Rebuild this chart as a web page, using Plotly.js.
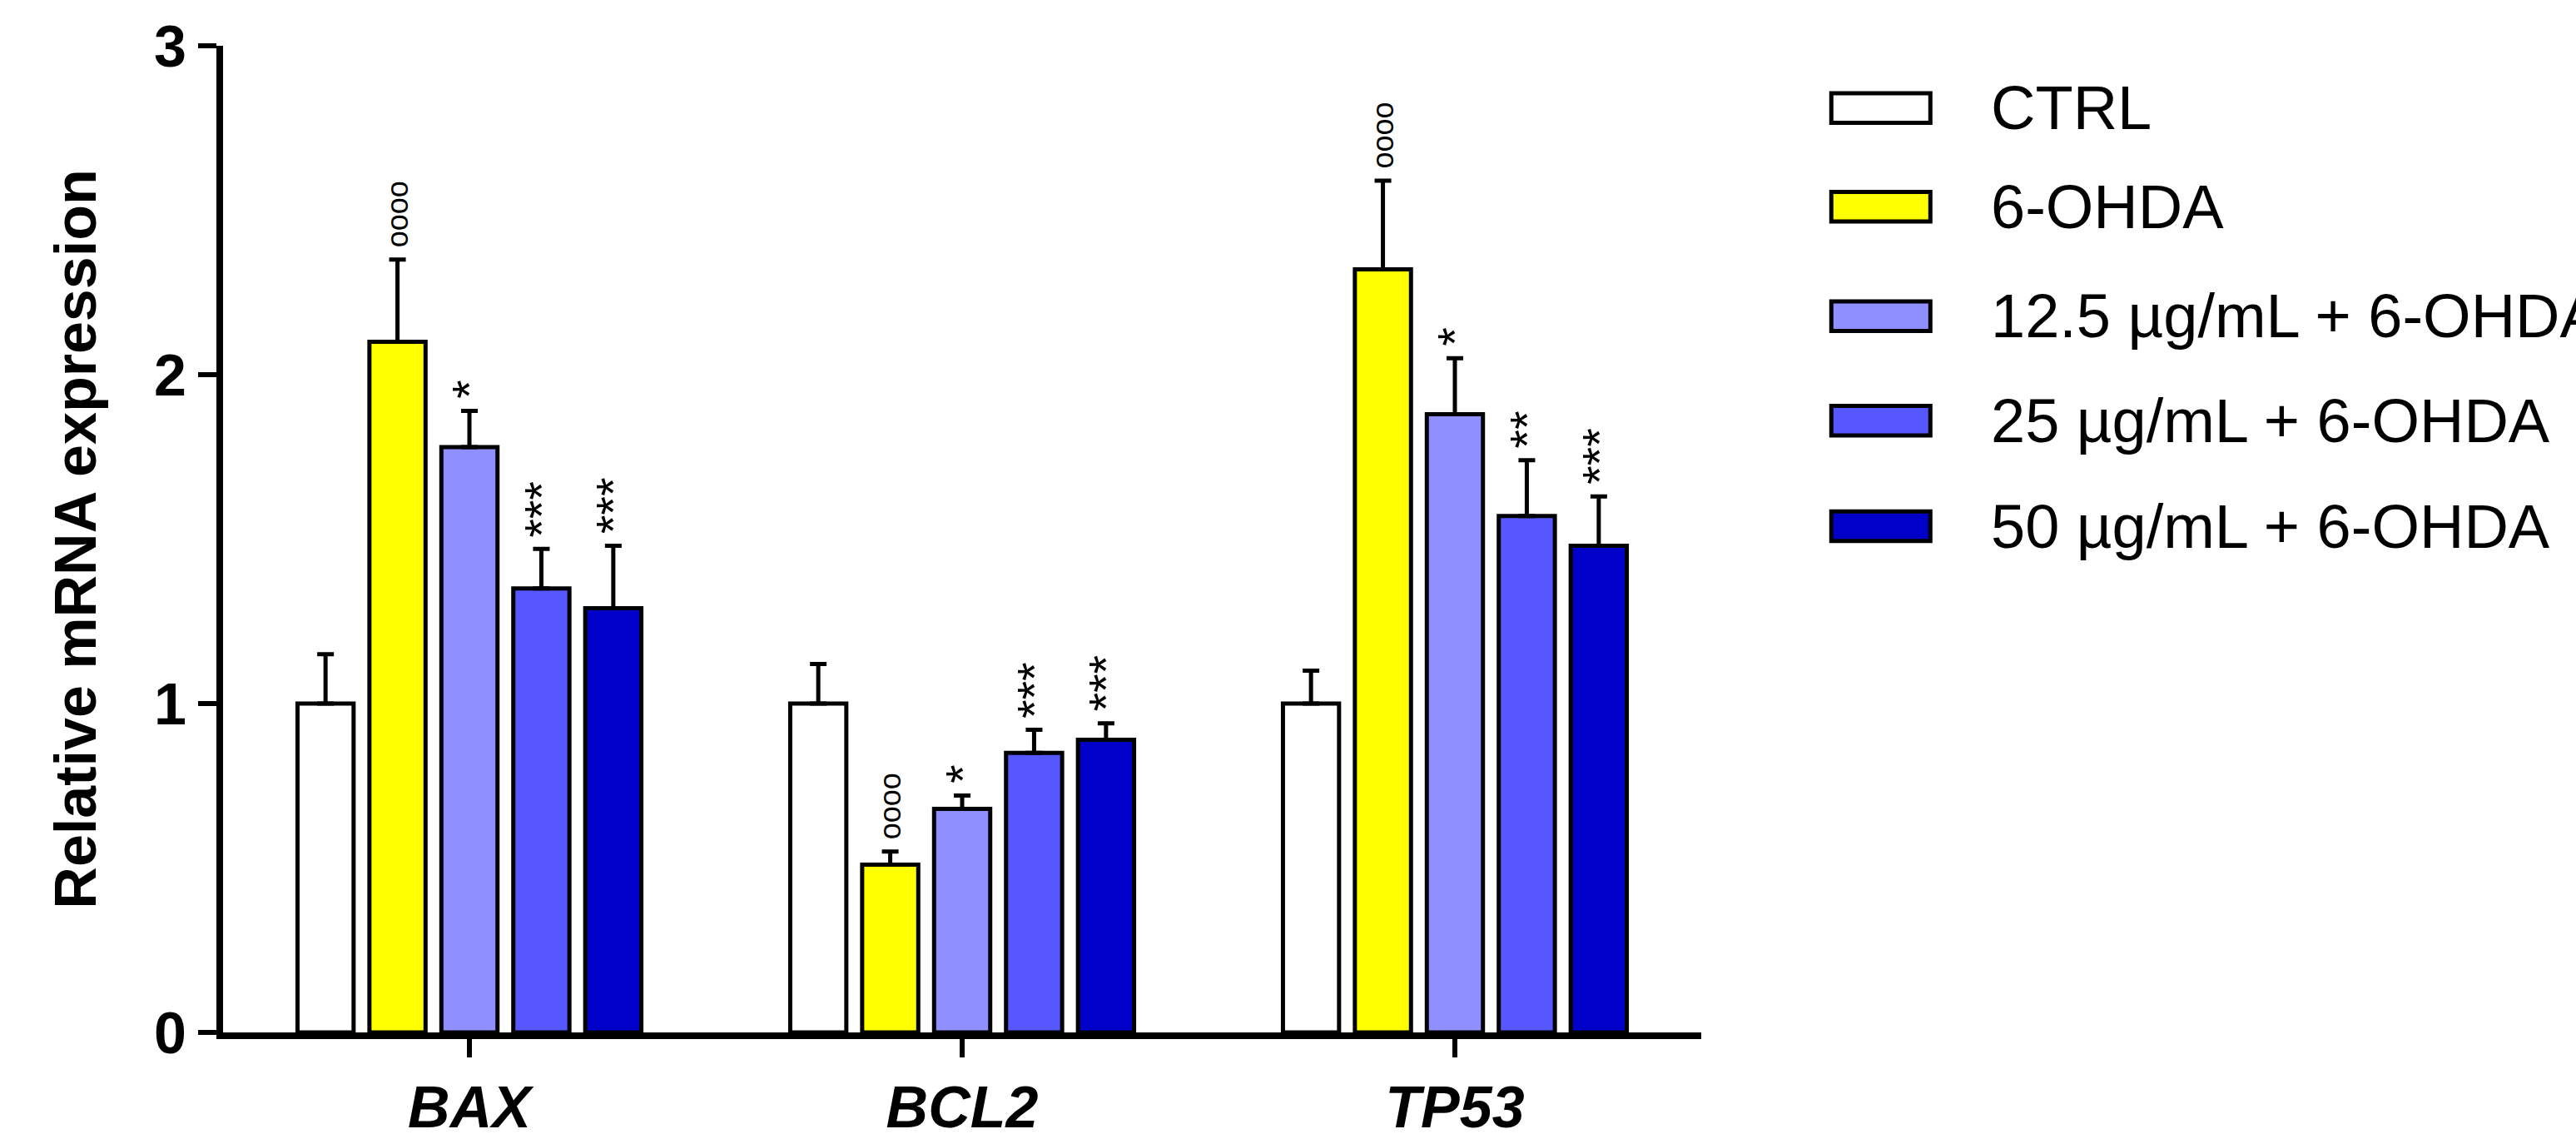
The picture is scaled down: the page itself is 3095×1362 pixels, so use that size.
<!DOCTYPE html>
<html>
<head>
<meta charset="utf-8">
<script src="https://cdn.plot.ly/plotly-3.0.1.min.js"></script>
<style>body{margin:0;background:#fff}#plot{width:3095px;height:1362px}</style>
</head>
<body>
<div id="plot"></div>
<script>
const genes = ["BAX", "BCL2", "TP53"];
const groups = ["CTRL", "6-OHDA", "12.5 µg/mL + 6-OHDA", "25 µg/mL + 6-OHDA", "50 µg/mL + 6-OHDA"];
const colors = ["#ffffff", "#ffff00", "#8f8fff", "#5757ff", "#0000c8"];
const means = [
  [1.0, 1.0, 1.0],
  [2.1, 0.51, 2.32],
  [1.78, 0.68, 1.88],
  [1.35, 0.85, 1.57],
  [1.29, 0.89, 1.48],
];
const sems = [
  [0.15, 0.12, 0.10],
  [0.25, 0.04, 0.27],
  [0.11, 0.04, 0.17],
  [0.12, 0.07, 0.17],
  [0.19, 0.05, 0.15],
];
const marks = [
  ["", "", ""],
  ["oooo", "oooo", "oooo"],
  ["*", "*", "*"],
  ["***", "***", "**"],
  ["***", "***", "***"],
];

const traces = groups.map((g, i) => ({
  type: "bar",
  name: g,
  x: [0, 1, 2],
  y: means[i],
  marker: { color: colors[i], line: { color: "#000", width: 5 } },
  error_y: { type: "data", symmetric: false, array: sems[i], arrayminus: [0, 0, 0], color: "#000", thickness: 5, width: 10 },
}));

const nb = groups.length, groupW = 0.73, step = groupW / nb;
const annotations = [];
const shapes = [];
marks.forEach((row, i) => {
  row.forEach((m, j) => {
    if (!m) return;
    const ring = m.startsWith("o");
    annotations.push({
      x: j + (i - (nb - 1) / 2) * step,
      y: means[i][j] + sems[i][j],
      yshift: 12,
      text: m,
      textangle: -90,
      showarrow: false,
      xanchor: "center",
      yanchor: "bottom",
      font: { family: "Arial, Liberation Sans", size: ring ? 36 : 58, color: "#000" },
    });
  });
});

// legend drawn by hand so the swatches match the reference size
const legY = [0.937, 0.837, 0.726, 0.620, 0.513];
groups.forEach((g, i) => {
  shapes.push({
    type: "rect", xref: "paper", yref: "paper",
    x0: 1.088, x1: 1.155, y0: legY[i] - 0.015, y1: legY[i] + 0.015,
    fillcolor: colors[i], line: { color: "#000", width: 5 },
  });
  annotations.push({
    xref: "paper", yref: "paper", x: 1.195, y: legY[i],
    xanchor: "left", yanchor: "middle", showarrow: false,
    text: g, font: { family: "Arial, Liberation Sans", size: 74, color: "#000" },
  });
});

Plotly.newPlot("plot", traces, {
  width: 3095,
  height: 1362,
  paper_bgcolor: "#fff",
  plot_bgcolor: "#fff",
  margin: { l: 268, r: 1051, t: 55, b: 122 },
  barmode: "group",
  bargap: 0.27,
  bargroupgap: 0.22,
  showlegend: false,
  font: { family: "Arial, Liberation Sans", color: "#000" },
  xaxis: {
    range: [-0.5, 2.5],
    tickvals: [0, 1, 2],
    ticktext: genes.map(g => "<b><i>" + g + "</i></b>"),
    tickfont: { size: 70 },
    showline: true, linewidth: 8, linecolor: "#000",
    ticks: "outside", ticklen: 22, tickwidth: 6, tickcolor: "#000",
    showgrid: false, zeroline: false,
  },
  yaxis: {
    range: [0, 3],
    tickvals: [0, 1, 2, 3],
    ticktext: ["<b>0</b>", "<b>1</b>", "<b>2</b>", "<b>3</b>"],
    tickfont: { size: 70 },
    showline: true, linewidth: 8, linecolor: "#000",
    ticks: "outside", ticklen: 22, tickwidth: 6, tickcolor: "#000",
    showgrid: false, zeroline: false,
    title: { text: "<b>Relative mRNA expression</b>", font: { size: 70 }, standoff: 50 },
  },
  shapes,
  annotations,
}, { displayModeBar: false });
</script>
</body>
</html>
